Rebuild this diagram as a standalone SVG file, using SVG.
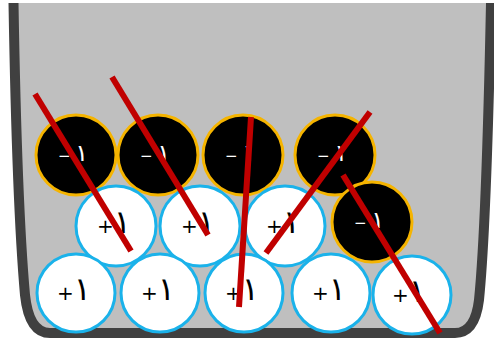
<svg xmlns="http://www.w3.org/2000/svg" width="494" height="341" viewBox="0 0 494 341">
<style>
.neg circle{fill:#000;stroke:#f5b400;stroke-width:3}
.pos circle{fill:#fff;stroke:#1ab2ea;stroke-width:3}
.neg text{fill:#fff;font-family:"DejaVu Sans",sans-serif;font-size:15px;text-anchor:middle}
.pos text{fill:#000;font-family:"DejaVu Sans",sans-serif;font-size:20px;text-anchor:middle}
.neg tspan{font-size:24px}
.pos tspan{font-size:32px}
.stick{stroke:#c00000;stroke-width:6;stroke-linecap:butt}
</style>
<rect width="494" height="341" fill="#fff"/>
<g id="container">
<path d="M13.5,3 C16,150 21,250 25,295 Q29,333 50,333 L455,333 Q475,333 479,300 C484,250 488,150 491,3 Z" fill="#bfbfbf"/>
<path d="M13.5,3 C16,150 21,250 25,295 Q29,333 50,333 L455,333 Q475,333 479,300 C484,250 488,150 491,3" fill="none" stroke="#404040" stroke-width="10"/>
</g>
<g id="b1" class="neg"><circle cx="76" cy="155" r="40"/><text x="73" y="161">− <tspan>١</tspan></text></g>
<g id="b2" class="neg"><circle cx="158" cy="155" r="40"/><text x="155" y="161">− <tspan>١</tspan></text></g>
<g id="b3" class="neg"><circle cx="243" cy="155" r="40"/><text x="240" y="161">− <tspan>١</tspan></text></g>
<g id="b4" class="neg"><circle cx="335" cy="155" r="40"/><text x="332" y="161">− <tspan>١</tspan></text></g>
<g id="b5" class="neg"><circle cx="372" cy="222" r="40"/><text x="369" y="228">− <tspan>١</tspan></text></g>
<g id="w1" class="pos"><circle cx="116" cy="226" r="40"/><text x="114" y="233">+<tspan>١</tspan></text></g>
<g id="w2" class="pos"><circle cx="200" cy="226" r="40"/><text x="198" y="233">+<tspan>١</tspan></text></g>
<g id="w3" class="pos"><circle cx="285" cy="226" r="40"/><text x="283" y="233">+<tspan>١</tspan></text></g>
<g id="w4" class="pos"><circle cx="76" cy="293" r="39"/><text x="74" y="300">+<tspan>١</tspan></text></g>
<g id="w5" class="pos"><circle cx="160" cy="293" r="39"/><text x="158" y="300">+<tspan>١</tspan></text></g>
<g id="w6" class="pos"><circle cx="244" cy="293" r="39"/><text x="242" y="300">+<tspan>١</tspan></text></g>
<g id="w7" class="pos"><circle cx="331" cy="293" r="39"/><text x="329" y="300">+<tspan>١</tspan></text></g>
<g id="w8" class="pos"><circle cx="412" cy="295" r="39"/><text x="409" y="302">+<tspan>١</tspan></text></g>
<g id="connectors">
<line class="stick" x1="35" y1="94" x2="131" y2="251"/>
<line class="stick" x1="112" y1="77" x2="208" y2="235"/>
<line class="stick" x1="251" y1="117" x2="239" y2="307"/>
<line class="stick" x1="370" y1="112" x2="266" y2="253"/>
<line class="stick" x1="343" y1="175" x2="440" y2="333"/>
</g>
</svg>
